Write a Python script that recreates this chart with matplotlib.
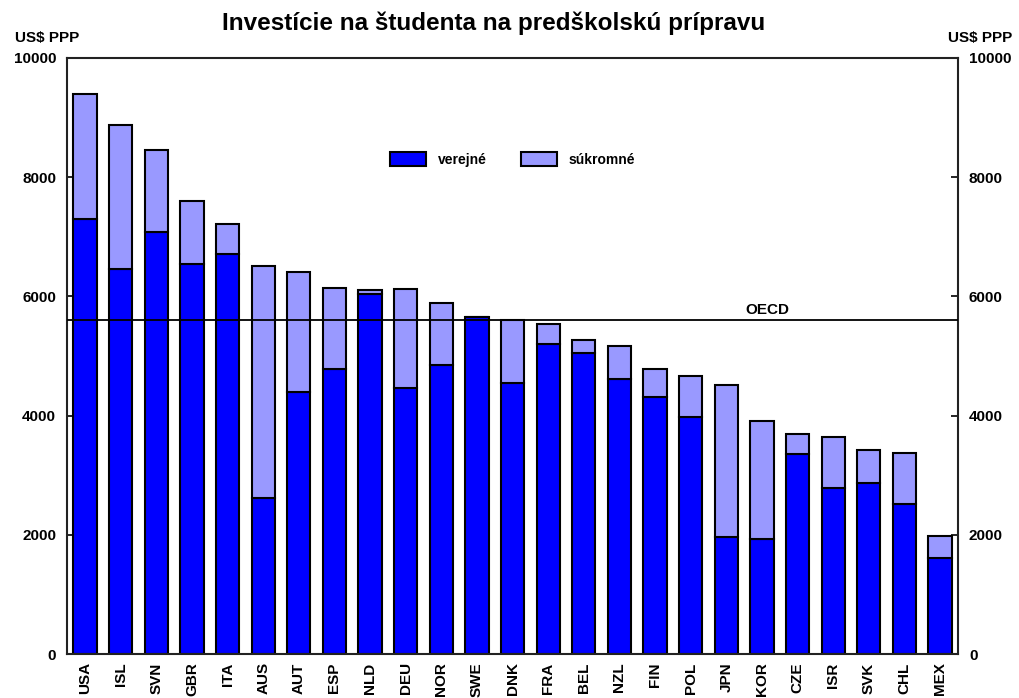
import matplotlib
matplotlib.use("Agg")
import matplotlib.pyplot as plt
import numpy as np

countries = ["USA", "ISL", "SVN", "GBR", "ITA", "AUS", "AUT", "ESP", "NLD", "DEU", "NOR", "SWE",
             "DNK", "FRA", "BEL", "NZL", "FIN", "POL", "JPN", "KOR", "CZE", "ISR", "SVK", "CHL", "MEX"]
public = [7300, 6460, 7080, 6540, 6710, 2620, 4400, 4780, 6040, 4460, 4850, 5650,
          4550, 5200, 5050, 4610, 4310, 3980, 1965, 1930, 3350, 2785, 2870, 2520, 1610]
total = [9400, 8880, 8460, 7600, 7215, 6510, 6410, 6140, 6110, 6120, 5890, 5655,
         5600, 5540, 5270, 5170, 4780, 4660, 4510, 3910, 3690, 3640, 3420, 3370, 1980]
private = [t - p for t, p in zip(total, public)]
oecd = 5600
yticks = [0, 2000, 4000, 6000, 8000, 10000]

plt.rcParams['font.family'] = ['Liberation Sans', 'DejaVu Sans']
plt.rcParams['font.weight'] = 'bold'

fig = plt.figure(figsize=(10.19, 6.98), dpi=100)
ax = fig.add_axes([0.066, 0.063, 0.874, 0.854])

x = np.arange(len(countries))
w = 0.65
ax.bar(x, public, width=w, color='#0000ff', edgecolor='black', linewidth=1.5, label='verejné', zorder=2)
ax.bar(x, private, bottom=public, width=w, color='#9999ff', edgecolor='black', linewidth=1.5,
       label='súkromné', zorder=2)
ax.axhline(oecd, color='black', linewidth=1.3, zorder=3)
ax.text(19.15, oecd + 60, 'OECD', fontsize=11, fontweight='bold', ha='center', va='bottom')

ax.set_xlim(-0.5, len(countries) - 0.5)
ax.set_ylim(0, 10000)
ax.set_yticks(yticks)
ax.set_yticklabels([str(v) for v in yticks], fontsize=11, fontweight='bold')
ax.set_xticks(x)
ax.set_xticklabels(countries, rotation=90, fontsize=11, fontweight='bold')
ax.tick_params(axis='y', direction='in', length=5, width=1.2, left=True, right=True,
               labelleft=True, labelright=True, pad=8)
ax.tick_params(axis='x', direction='in', length=4, width=1.2, pad=6)
for s in ax.spines.values():
    s.set_linewidth(1.5)
    s.set_color('#222222')

fig.text(0.015, 0.945, 'US$ PPP', fontsize=11, fontweight='bold', ha='left', va='center')
fig.text(0.993, 0.945, 'US$ PPP', fontsize=11, fontweight='bold', ha='right', va='center')
fig.text(0.484, 0.966, 'Investície na študenta na predškolskú prípravu', fontsize=17.5,
         fontweight='bold', ha='center', va='center')

leg = ax.legend(loc='center', bbox_to_anchor=(0.5, 0.83), ncol=2, frameon=False,
                fontsize=10, handlelength=2.6, handleheight=1.2, columnspacing=2.5)
for t in leg.get_texts():
    t.set_fontweight('bold')

fig.savefig('out.png', dpi=100)
